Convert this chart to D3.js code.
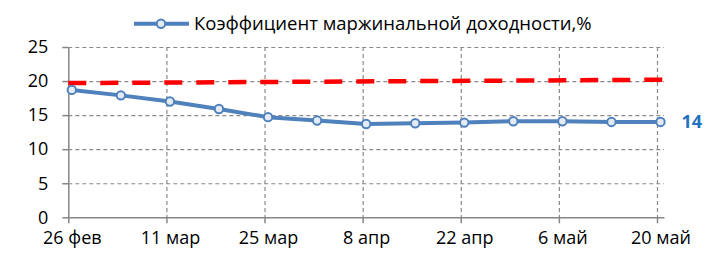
<!DOCTYPE html>
<meta charset="utf-8">
<style>
body { margin: 0; background: #fff; }
svg text { font-family: "Open Sans", "Noto Sans", sans-serif; fill: #000; }
.tick text { font-size: 18px; }
.grid line { stroke: #8a8a8a; stroke-width: 1.2; stroke-dasharray: 4,3; }
.grid path { display: none; }
</style>
<svg width="708" height="253"></svg>
<script src="https://d3js.org/d3.v7.min.js"></script>
<script>

// weekly dates and margin ratio values (%)
var dates = ["2012-02-26","2012-03-04","2012-03-11","2012-03-18","2012-03-25","2012-04-01",
             "2012-04-08","2012-04-15","2012-04-22","2012-04-29","2012-05-06","2012-05-13","2012-05-20"];
var ratio = [18.7, 17.9, 17.0, 15.9, 14.7, 14.2, 13.7, 13.8, 13.9, 14.1, 14.1, 14.0, 14.0];

// red dashed trend line (start / end)
var trendDates = ["2012-02-26","2012-05-22"];
var trendValues = [19.7, 20.2];

var yTicks = [0, 5, 10, 15, 20, 25];
var months = ["янв","фев","мар","апр","май","июн","июл","авг","сен","окт","ноя","дек"];
var seriesName = "Коэффициент маржинальной доходности,%";

(function() {
  var parse = d3.utcParse("%Y-%m-%d");
  var svg = d3.select("svg");

  var pLeft = 68.3, pRight = 664, pTop = 47, pBottom = 217.3;

  var x = d3.scaleUtc()
      .domain([parse("2012-02-26"), parse("2012-05-21")])
      .range([pLeft, pRight]);
  var y = d3.scaleLinear().domain([0, 25]).range([pBottom, pTop]);

  var halfDay = (x(parse("2012-02-27")) - x(parse("2012-02-26"))) / 2;
  var xTicks = d3.utcDay.range(parse("2012-02-26"), parse("2012-05-21"), 14);

  var data = dates.map(function(d, i) { return {date: parse(d), value: ratio[i]}; });
  var trend = trendDates.map(function(d, i) { return {date: parse(d), value: trendValues[i]}; });

  // grid
  svg.append("g").attr("class", "grid")
      .attr("transform", "translate(" + pLeft + ",0)")
      .call(d3.axisRight(y).tickValues(yTicks.slice(1)).tickSize(pRight - pLeft).tickFormat(""));
  svg.append("g").attr("class", "grid")
      .attr("transform", "translate(0," + pTop + ")")
      .call(d3.axisBottom(x).tickValues(xTicks.slice(1)).tickSize(pBottom - pTop).tickFormat(""));

  // axes
  var yAxis = svg.append("g")
      .attr("transform", "translate(" + pLeft + ",0)")
      .call(d3.axisLeft(y).tickValues(yTicks).tickSize(6).tickPadding(14).tickSizeOuter(0));
  var xAxis = svg.append("g")
      .attr("transform", "translate(0," + pBottom + ")")
      .call(d3.axisBottom(x).tickValues(xTicks).tickSize(6).tickPadding(8).tickSizeOuter(0)
        .tickFormat(function(d) { return d.getUTCDate() + " " + months[d.getUTCMonth()]; }));
  xAxis.selectAll(".tick text").attr("x", halfDay);
  [xAxis, yAxis].forEach(function(a) {
    a.select(".domain").attr("stroke", "#868686").attr("stroke-width", 1.5);
    a.selectAll(".tick line").attr("stroke", "#868686").attr("stroke-width", 1.5);
  });

  // trend line
  svg.append("path")
      .datum(trend)
      .attr("fill", "none")
      .attr("stroke", "#ff0000")
      .attr("stroke-width", 4.5)
      .attr("stroke-dasharray", "18,14")
      .attr("d", d3.line().x(function(d) { return x(d.date); }).y(function(d) { return y(d.value); }));

  // series line (points centred in the day)
  var px = function(d) { return x(d.date) + halfDay; };
  svg.append("path")
      .datum(data)
      .attr("fill", "none")
      .attr("stroke", "#4f81bd")
      .attr("stroke-width", 4)
      .attr("stroke-linejoin", "round")
      .attr("d", d3.line().x(px).y(function(d) { return y(d.value); }));

  svg.selectAll("circle.pt")
      .data(data)
      .enter().append("circle")
        .attr("class", "pt")
        .attr("cx", px)
        .attr("cy", function(d) { return y(d.value); })
        .attr("r", 4.2)
        .attr("fill", "#e4ebf5")
        .attr("stroke", "#4f81bd")
        .attr("stroke-width", 2);

  // label of last point
  var last = data[data.length - 1];
  svg.append("text")
      .attr("x", px(last) + 21)
      .attr("y", y(last.value))
      .attr("dy", "0.36em")
      .style("font-size", "18px")
      .style("font-weight", "bold")
      .style("fill", "#1f73c0")
      .text(d3.format("d")(Math.round(last.value)));

  // legend
  var lg = svg.append("g").attr("transform", "translate(134,23.7)");
  lg.append("line").attr("x1", 0).attr("x2", 55)
      .attr("stroke", "#4f81bd").attr("stroke-width", 4);
  lg.append("circle").attr("cx", 27).attr("r", 4.2)
      .attr("fill", "#e4ebf5").attr("stroke", "#4f81bd").attr("stroke-width", 2);
  lg.append("text").attr("x", 60).attr("dy", "0.35em")
      .style("font-size", "18.5px")
      .text(seriesName);
})();
</script>
